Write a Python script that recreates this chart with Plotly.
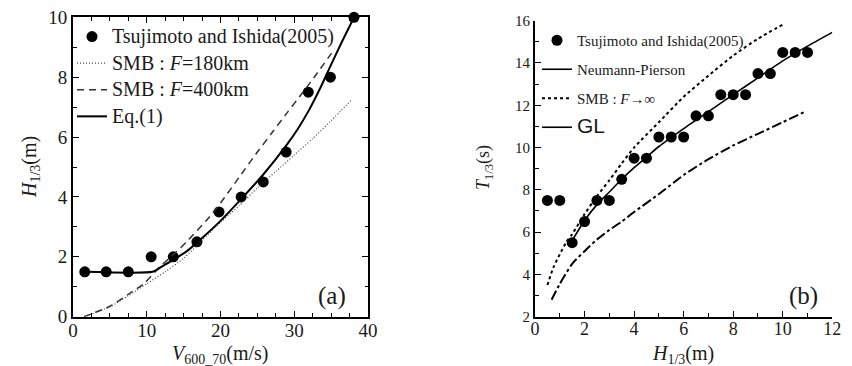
import plotly.graph_objects as go

# ---------------- data: panel (a) ----------------
obs_v = [1.6, 4.5, 7.5, 10.6, 13.6, 16.8, 19.8, 22.8, 25.8, 28.9, 31.9, 34.9, 38.1]
obs_h = [1.5, 1.5, 1.5, 2.0, 2.0, 2.5, 3.5, 4.0, 4.5, 5.5, 7.5, 8.0, 10.0]

smb180_v = [1.5, 5.0, 7.5, 10.0, 12.5, 15.0, 17.5, 20.0, 22.5, 25.0, 27.5, 30.0, 32.5, 35.0, 37.8]
smb180_h = [0.0, 0.33, 0.7, 1.1, 1.5, 1.95, 2.55, 3.15, 3.7, 4.3, 4.85, 5.4, 5.95, 6.55, 7.25]

smb400_v = [1.5, 5.0, 7.5, 9.6, 11.8, 13.5, 15.4, 18.2, 20.0, 22.5, 25.0, 27.0, 29.0, 31.25, 33.0, 35.5]
smb400_h = [0.0, 0.35, 0.75, 1.1, 1.67, 2.05, 2.5, 3.25, 3.8, 4.65, 5.5, 6.15, 6.8, 7.52, 8.1, 8.95]

eq1_v = [1.5, 10.8, 12.2, 13.6, 15.5, 17.2, 20.0, 22.7, 25.8, 29.0, 30.5, 32.0, 33.5, 35.0, 36.5, 38.1]
eq1_h = [1.5, 1.5, 1.7, 1.9, 2.2, 2.56, 3.2, 3.9, 4.75, 5.75, 6.28, 6.9, 7.62, 8.42, 9.2, 10.0]

# ---------------- data: panel (b) ----------------
obs_H = [0.5, 1, 1.5, 2, 2.5, 3, 3.5, 4, 4.5, 5, 5.5, 6, 6.5, 7, 7.5, 8, 8.5, 9, 9.5, 10, 10.5, 11]
obs_T = [7.5, 7.5, 5.5, 6.5, 7.5, 7.5, 8.5, 9.5, 9.5, 10.5, 10.5, 10.5, 11.5, 11.5,
         12.5, 12.5, 12.5, 13.5, 13.5, 14.5, 14.5, 14.5]

np_H = [1.5, 2, 2.5, 3, 3.5, 4, 4.5, 5, 6, 7, 8, 9, 10, 11, 12]
np_T = [5.6, 6.55, 7.3, 7.9, 8.5, 9.05, 9.55, 10.05, 10.9, 11.7, 12.5, 13.3, 14.1, 14.8, 15.45]

smbinf_H = [0.5, 0.75, 1, 1.25, 1.5, 2, 2.5, 3, 3.5, 4, 5, 6, 7, 8, 9, 10.05]
smbinf_T = [3.5, 4.35, 4.95, 5.5, 5.9, 6.85, 7.7, 8.45, 9.25, 10.0, 11.2, 12.4, 13.4, 14.35, 15.15, 15.85]

gl_H = [0.67, 1, 1.5, 2, 2.5, 3, 3.5, 4, 5, 6, 7, 8, 9, 10, 10.9]
gl_T = [2.8, 3.55, 4.5, 5.1, 5.65, 6.1, 6.5, 6.95, 7.8, 8.7, 9.45, 10.1, 10.65, 11.2, 11.7]

# ---------------- layout helpers ----------------
# the page body has an 8px default margin, so the figure is drawn 8px in from the corner
OFF = 8
FW, FH = 844, 358
def PX(x):
    return (x - OFF) / FW
def PY(y):
    return 1 - (y - OFF) / FH

SERIF = "Liberation Serif"
INK = "#1a1a1a"

def big(t):
    return '<span style="font-size:20px">' + t + '</span>'

fig = go.Figure()

# ---- panel (a) traces ----
fig.add_trace(go.Scatter(x=obs_v, y=obs_h, mode="markers", cliponaxis=False,
                         marker=dict(color="black", size=11),
                         name=big("Tsujimoto and Ishida(2005)"), legendgroup="a1",
                         xaxis="x", yaxis="y", legend="legend"))
fig.add_trace(go.Scatter(x=smb180_v, y=smb180_h, mode="lines",
                         line=dict(color="#444", width=1.2, dash="1px,2px", shape="spline", smoothing=0.6),
                         name=big("SMB : <i>F</i>=180km"), legendgroup="a2",
                         xaxis="x", yaxis="y", legend="legend"))
fig.add_trace(go.Scatter(x=smb400_v, y=smb400_h, mode="lines",
                         line=dict(color="#333", width=1.5, dash="7px,5px", shape="spline", smoothing=0.6),
                         name=big("SMB : <i>F</i>=400km"), legendgroup="a3",
                         xaxis="x", yaxis="y", legend="legend"))
fig.add_trace(go.Scatter(x=eq1_v, y=eq1_h, mode="lines",
                         line=dict(color="black", width=2, shape="spline", smoothing=0.5),
                         name=big("Eq.(1)"), legendgroup="a4",
                         xaxis="x", yaxis="y", legend="legend"))

# ---- panel (b) traces ----
fig.add_trace(go.Scatter(x=obs_H, y=obs_T, mode="markers", cliponaxis=False,
                         marker=dict(color="black", size=11),
                         name="Tsujimoto and Ishida(2005)", legendgroup="b1",
                         xaxis="x2", yaxis="y2", legend="legend2"))
fig.add_trace(go.Scatter(x=np_H, y=np_T, mode="lines",
                         line=dict(color="black", width=1.6, shape="spline", smoothing=0.6),
                         name="Neumann-Pierson", legendgroup="b2",
                         xaxis="x2", yaxis="y2", legend="legend2"))
fig.add_trace(go.Scatter(x=smbinf_H, y=smbinf_T, mode="lines",
                         line=dict(color="black", width=2, dash="3px,3px", shape="spline", smoothing=0.6),
                         name="SMB : <i>F</i>→∞", legendgroup="b3",
                         xaxis="x2", yaxis="y2", legend="legend2"))
fig.add_trace(go.Scatter(x=gl_H, y=gl_T, mode="lines",
                         line=dict(color="black", width=2, dash="10px,3px,3px,3px", shape="spline", smoothing=0.6),
                         name="GL", showlegend=False,
                         xaxis="x2", yaxis="y2"))
# legend-only entry (the reference legend shows GL with a plain line)
fig.add_trace(go.Scatter(x=[None], y=[None], mode="lines",
                         line=dict(color="black", width=1.6),
                         name='<span style="font-family:Liberation Sans;font-size:21px">GL</span>',
                         legendgroup="b4",
                         xaxis="x2", yaxis="y2", legend="legend2"))

axis_common = dict(showgrid=False, zeroline=False, showline=True, linecolor="black",
                   ticks="inside", tickcolor="black", tickwidth=1, ticklen=6,
                   automargin=False, ticklabeloverflow="allow")

fig.update_layout(
    width=FW, height=FH,
    margin=dict(l=0, r=0, t=0, b=0, autoexpand=False),
    paper_bgcolor="white", plot_bgcolor="white",
    font=dict(family=SERIF, color=INK),
    xaxis=dict(domain=[PX(73), PX(368)], range=[0, 40], dtick=10, tick0=0,
               linewidth=2, mirror="ticks", anchor="y", ticklabelstandoff=-5,
               minor=dict(dtick=2.5, ticks="inside", ticklen=3.5, tickcolor="black"),
               tickfont=dict(size=19, family=SERIF, color=INK), **axis_common),
    yaxis=dict(domain=[PY(316.7), PY(17.3)], range=[0, 10], dtick=2, tick0=0,
               linewidth=2, mirror="ticks", anchor="x",
               minor=dict(dtick=1, ticks="inside", ticklen=3.5, tickcolor="black"),
               tickfont=dict(size=19, family=SERIF, color=INK), **axis_common),
    xaxis2=dict(domain=[PX(535), PX(832.3)], range=[0, 12], dtick=2, tick0=0,
                linewidth=2, anchor="y2", ticklabelstandoff=-5,
                minor=dict(dtick=1, ticks="inside", ticklen=3.5, tickcolor="black"),
                tickfont=dict(size=18, family=SERIF, color=INK), **axis_common),
    yaxis2=dict(domain=[PY(316.7), PY(20.7)], range=[2, 16], dtick=2, tick0=2,
                linewidth=2, anchor="x2",
                minor=dict(dtick=1, ticks="inside", ticklen=3.5, tickcolor="black"),
                tickfont=dict(size=15, family=SERIF, color=INK), **axis_common),
    xaxis3=dict(overlaying="x2", side="top", anchor="y2", range=[0, 12], dtick=2, tick0=0,
                showgrid=False, zeroline=False, showline=True, linecolor="#555", linewidth=1,
                ticks="inside", tickcolor="#333", ticklen=6, showticklabels=False,
                automargin=False,
                minor=dict(dtick=1, ticks="inside", ticklen=3.5, tickcolor="#333")),
    yaxis3=dict(overlaying="y2", side="right", anchor="x2", range=[2, 16], dtick=2, tick0=2,
                showgrid=False, zeroline=False, showline=True, linecolor="#555", linewidth=1,
                ticks="inside", tickcolor="#333", ticklen=6, showticklabels=False,
                automargin=False,
                minor=dict(dtick=1, ticks="inside", ticklen=3.5, tickcolor="#333")),
    legend=dict(x=PX(72), y=PY(19), xanchor="left", yanchor="top",
                bgcolor="rgba(0,0,0,0)", borderwidth=0,
                font=dict(size=17, family=SERIF, color=INK), itemwidth=30,
                tracegroupgap=1.5),
    legend2=dict(x=PX(537), y=PY(24), xanchor="left", yanchor="top",
                 bgcolor="rgba(0,0,0,0)", borderwidth=0,
                 font=dict(size=15, family=SERIF, color=INK), itemwidth=30,
                 tracegroupgap=6.5),
    showlegend=True,
)

ann = [
    dict(text="<i>H</i><sub>1/3</sub>(m)", x=PX(31), y=PY(167), textangle=-90,
         font=dict(size=20)),
    dict(text="<i>V</i><sub>600_70</sub>(m/s)", x=PX(220), y=PY(354),
         font=dict(size=20)),
    dict(text="<i>T</i><sub>1/3</sub>(s)", x=PX(484), y=PY(168), textangle=-90,
         font=dict(size=18)),
    dict(text="<i>H</i><sub>1/3</sub>(m)", x=PX(683), y=PY(354),
         font=dict(size=20)),
    dict(text="(a)", x=PX(332), y=PY(296), font=dict(size=25)),
    dict(text="(b)", x=PX(803), y=PY(296), font=dict(size=25)),
]
for a in ann:
    a.update(xref="paper", yref="paper", showarrow=False, xanchor="center", yanchor="middle")
    a["font"].update(family=SERIF, color=INK)
fig.update_layout(annotations=ann)

fig.write_html("out.html")
